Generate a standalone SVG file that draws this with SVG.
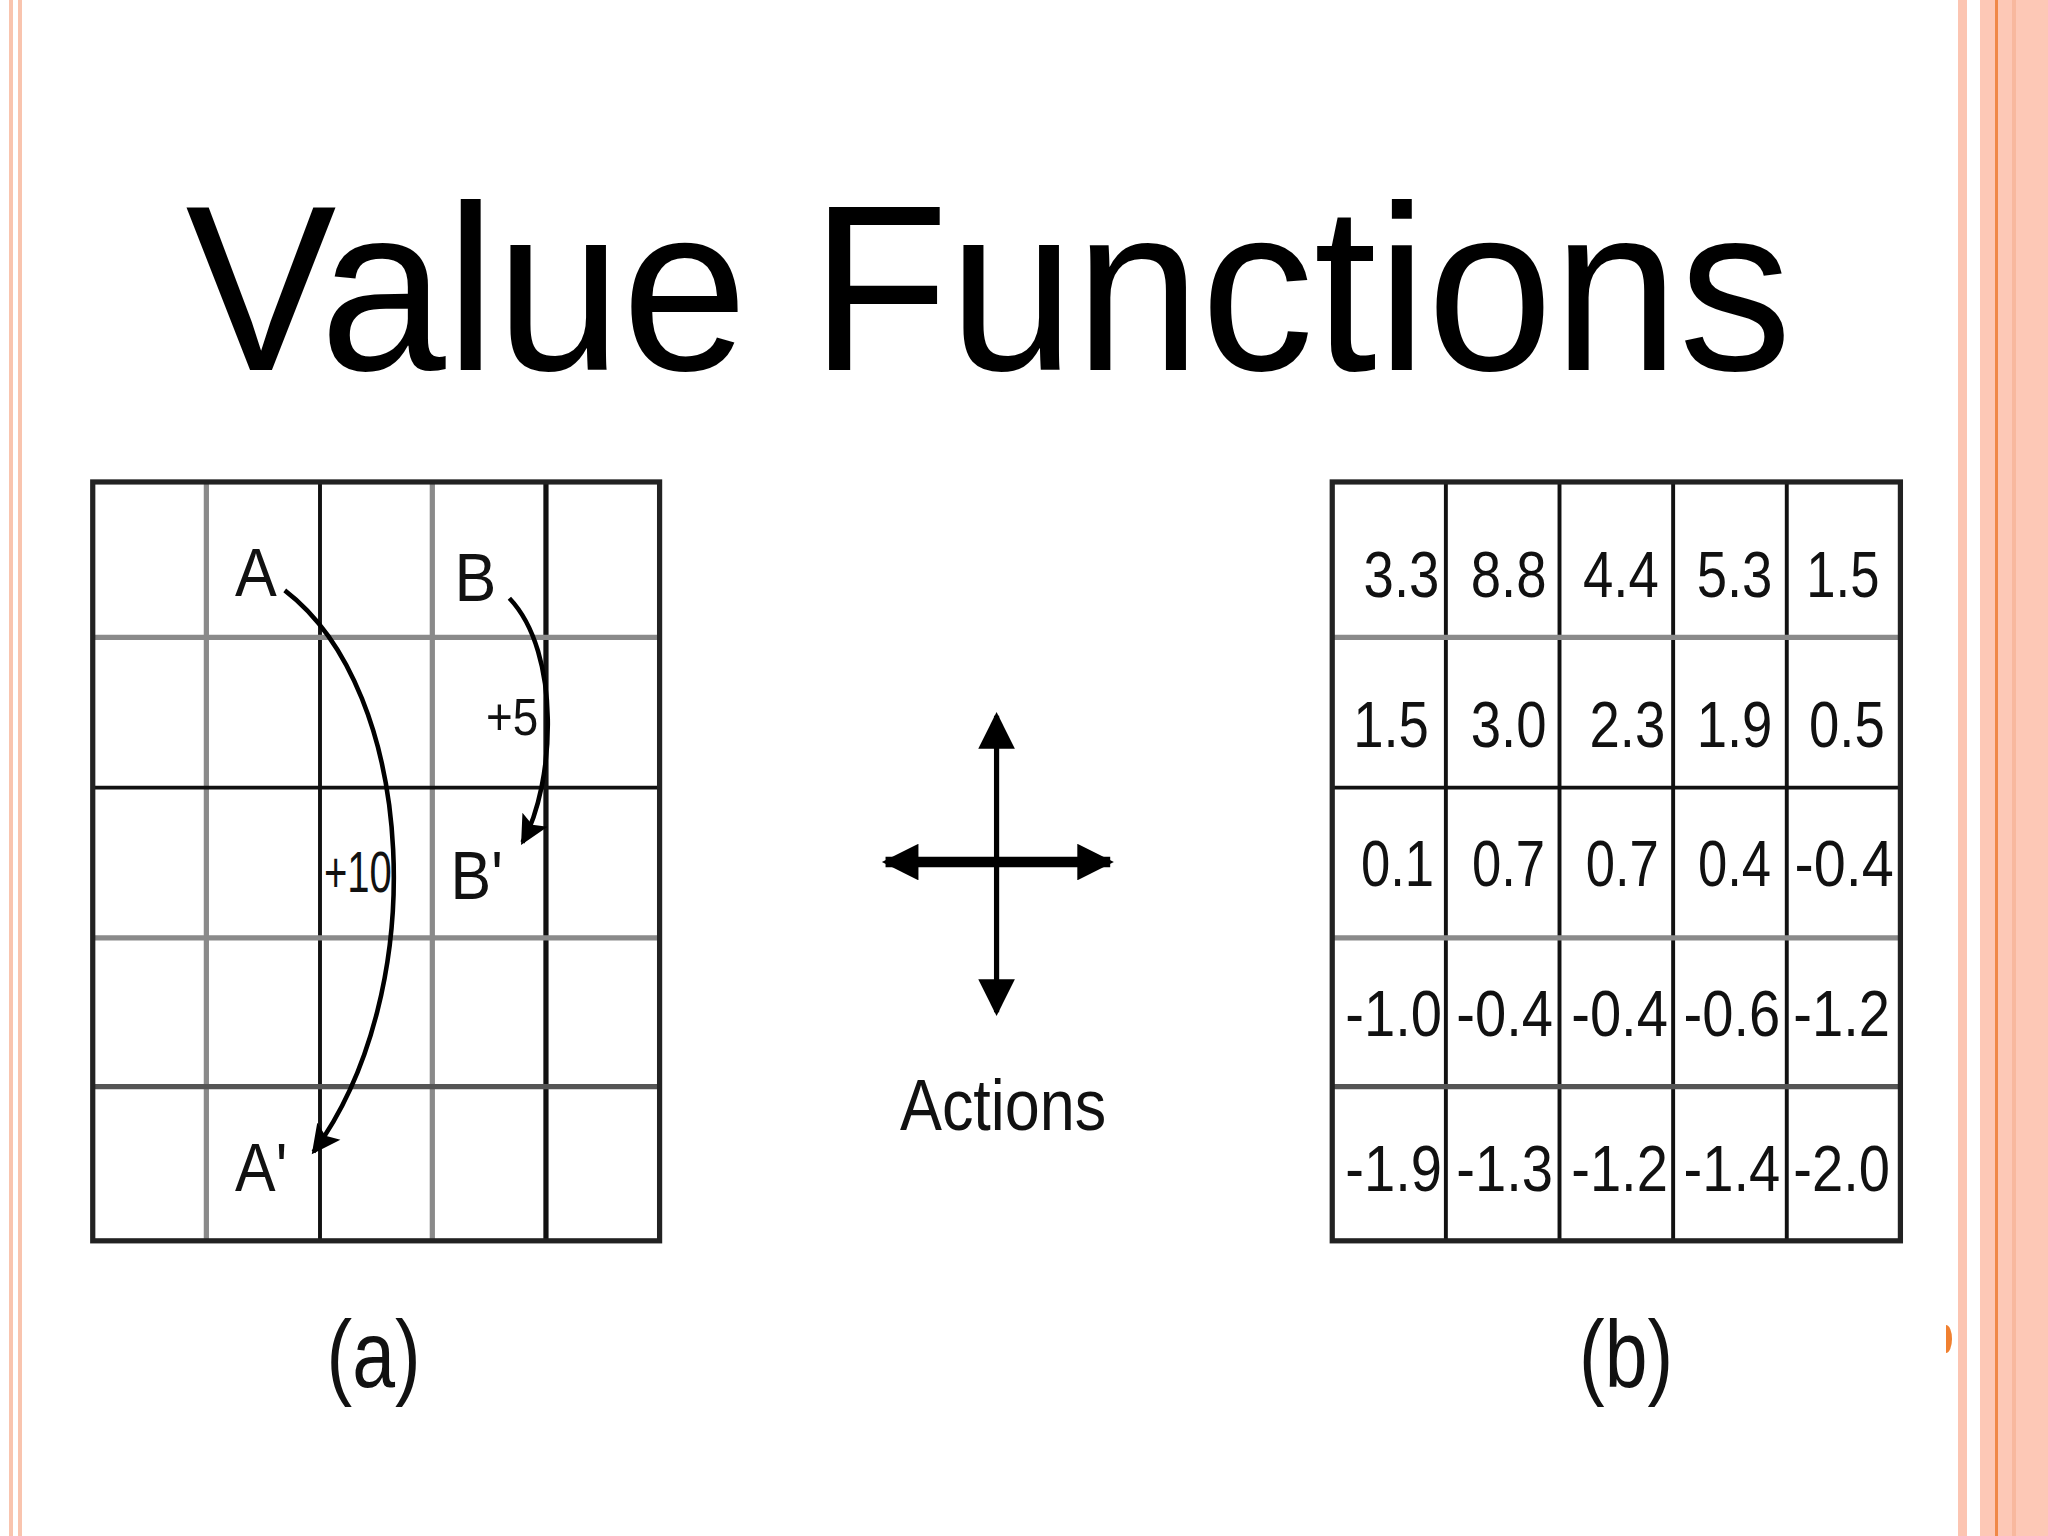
<svg xmlns="http://www.w3.org/2000/svg" width="2048" height="1536" viewBox="0 0 2048 1536">
<style>
.t{font-family:"Liberation Sans",Arial,sans-serif;fill:#111}
.v{font-size:50px;text-anchor:middle}
.k{stroke:#111;stroke-width:3}
.g{stroke:#8a8a8a;stroke-width:4}
</style>
<defs>
<marker id="ah" viewBox="0 0 10 10" refX="9" refY="5" markerWidth="8" markerHeight="8" markerUnits="userSpaceOnUse" orient="auto"><path d="M0,0 L10,5 L0,10 L2,5 Z" fill="#000"/></marker>
<marker id="ah2" viewBox="0 0 10 10" refX="9" refY="5" markerWidth="30" markerHeight="22" markerUnits="userSpaceOnUse" orient="auto"><path d="M0,0 L10,5 L0,10 L2,5 Z" fill="#000"/></marker>
<marker id="ax" viewBox="0 0 10 10" refX="9" refY="5" markerWidth="34" markerHeight="28" markerUnits="userSpaceOnUse" orient="auto"><path d="M0,0 L10,5 L0,10 Z" fill="#000"/></marker>
</defs>
<rect width="2048" height="1536" fill="#fff"/>
<rect x="9" y="0" width="4" height="1536" fill="#f9c4ae"/>
<rect x="18" y="0" width="4" height="1536" fill="#f9c4ae"/>
<rect x="1958" y="0" width="9" height="1536" fill="#fcc5b2"/>
<rect x="1980" y="0" width="68" height="1536" fill="#fdc8b6"/>
<rect x="1995" y="0" width="3" height="1536" fill="#f08848"/>
<rect x="2012" y="0" width="4" height="1536" fill="#f8b89e"/>
<path d="M1946,1325 a6,14 0 0 1 0,28 z" fill="#f08030"/>
<g transform="scale(1.30612)">
<text x="757" y="283" text-anchor="middle" textLength="1230" lengthAdjust="spacingAndGlyphs" style="font-family:'Liberation Sans',Arial,sans-serif;font-size:180px" fill="#000">Value Functions</text>
<g id="gridA">
<line class="g" x1="158" y1="369" x2="158" y2="950"/>
<line class="k" x1="245" y1="369" x2="245" y2="950"/>
<line class="g" x1="331" y1="369" x2="331" y2="950"/>
<line class="k" x1="418" y1="369" x2="418" y2="950" style="stroke-width:4"/>
<line class="g" x1="71" y1="488" x2="505" y2="488"/>
<line class="k" x1="71" y1="603" x2="505" y2="603"/>
<line class="g" x1="71" y1="718" x2="505" y2="718"/>
<line x1="71" y1="832" x2="505" y2="832" stroke="#555" stroke-width="4"/>
<rect x="71" y="369" width="434" height="581" fill="none" stroke="#222" stroke-width="4"/>
</g>
<g id="labelsA" class="t" style="font-size:52px">
<text x="180" y="456" textLength="32" lengthAdjust="spacingAndGlyphs">A</text>
<text x="348" y="460" textLength="32" lengthAdjust="spacingAndGlyphs">B</text>
<text x="180" y="912" textLength="40" lengthAdjust="spacingAndGlyphs">A'</text>
<text x="345" y="688" textLength="40" lengthAdjust="spacingAndGlyphs">B'</text>
<text x="372" y="563" style="font-size:40px" textLength="40" lengthAdjust="spacingAndGlyphs">+5</text>
<text x="248" y="683" style="font-size:44px" textLength="52" lengthAdjust="spacingAndGlyphs">+10</text>
</g>
<g id="connectors" fill="none" stroke="#000" stroke-width="3.5">
<path d="M218,452 C320,530 330,760 240,882" marker-end="url(#ah2)"/>
<path d="M390,458 C430,500 425,600 400,645" marker-end="url(#ah2)"/>
</g>
<g id="actions">
<line x1="763" y1="660" x2="763" y2="548" stroke="#000" stroke-width="4" marker-end="url(#ax)"/>
<line x1="763" y1="660" x2="763" y2="775" stroke="#000" stroke-width="4" marker-end="url(#ax)"/>
<line x1="763" y1="660" x2="678" y2="660" stroke="#000" stroke-width="8" marker-end="url(#ax)"/>
<line x1="763" y1="660" x2="850" y2="660" stroke="#000" stroke-width="8" marker-end="url(#ax)"/>
<text class="t" x="768" y="865" text-anchor="middle" textLength="158" lengthAdjust="spacingAndGlyphs" style="font-size:56px">Actions</text>
</g>
<g id="gridB">
<line class="k" x1="1107" y1="369" x2="1107" y2="950"/>
<line class="k" x1="1194" y1="369" x2="1194" y2="950"/>
<line class="k" x1="1281" y1="369" x2="1281" y2="950"/>
<line class="k" x1="1368" y1="369" x2="1368" y2="950"/>
<line class="g" x1="1020" y1="488" x2="1455" y2="488"/>
<line class="k" x1="1020" y1="603" x2="1455" y2="603"/>
<line class="g" x1="1020" y1="718" x2="1455" y2="718"/>
<line x1="1020" y1="832" x2="1455" y2="832" stroke="#555" stroke-width="4"/>
<rect x="1020" y="369" width="435" height="581" fill="none" stroke="#222" stroke-width="4"/>
</g>
<g id="values" class="t v">
<text x="1073" y="457" textLength="58" lengthAdjust="spacingAndGlyphs">3.3</text><text x="1155" y="457" textLength="58" lengthAdjust="spacingAndGlyphs">8.8</text><text x="1241" y="457" textLength="58" lengthAdjust="spacingAndGlyphs">4.4</text><text x="1328" y="457" textLength="58" lengthAdjust="spacingAndGlyphs">5.3</text><text x="1411" y="457" textLength="56" lengthAdjust="spacingAndGlyphs">1.5</text>
<text x="1065" y="572" textLength="58" lengthAdjust="spacingAndGlyphs">1.5</text><text x="1155" y="572" textLength="58" lengthAdjust="spacingAndGlyphs">3.0</text><text x="1246" y="572" textLength="58" lengthAdjust="spacingAndGlyphs">2.3</text><text x="1328" y="572" textLength="58" lengthAdjust="spacingAndGlyphs">1.9</text><text x="1414" y="572" textLength="58" lengthAdjust="spacingAndGlyphs">0.5</text>
<text x="1070" y="678" textLength="56" lengthAdjust="spacingAndGlyphs">0.1</text><text x="1155" y="678" textLength="56" lengthAdjust="spacingAndGlyphs">0.7</text><text x="1242" y="678" textLength="56" lengthAdjust="spacingAndGlyphs">0.7</text><text x="1328" y="678" textLength="56" lengthAdjust="spacingAndGlyphs">0.4</text><text x="1412" y="678" textLength="76" lengthAdjust="spacingAndGlyphs">-0.4</text>
<text x="1067" y="793" textLength="74" lengthAdjust="spacingAndGlyphs">-1.0</text><text x="1152" y="793" textLength="74" lengthAdjust="spacingAndGlyphs">-0.4</text><text x="1240" y="793" textLength="74" lengthAdjust="spacingAndGlyphs">-0.4</text><text x="1326" y="793" textLength="74" lengthAdjust="spacingAndGlyphs">-0.6</text><text x="1410" y="793" textLength="74" lengthAdjust="spacingAndGlyphs">-1.2</text>
<text x="1067" y="912" textLength="74" lengthAdjust="spacingAndGlyphs">-1.9</text><text x="1152" y="912" textLength="74" lengthAdjust="spacingAndGlyphs">-1.3</text><text x="1240" y="912" textLength="74" lengthAdjust="spacingAndGlyphs">-1.2</text><text x="1326" y="912" textLength="74" lengthAdjust="spacingAndGlyphs">-1.4</text><text x="1410" y="912" textLength="74" lengthAdjust="spacingAndGlyphs">-2.0</text>
</g>
<text class="t" x="286" y="1062" text-anchor="middle" textLength="72" lengthAdjust="spacingAndGlyphs" style="font-size:72px">(a)</text>
<text class="t" x="1245" y="1062" text-anchor="middle" textLength="72" lengthAdjust="spacingAndGlyphs" style="font-size:72px">(b)</text>
</g>
</svg>
